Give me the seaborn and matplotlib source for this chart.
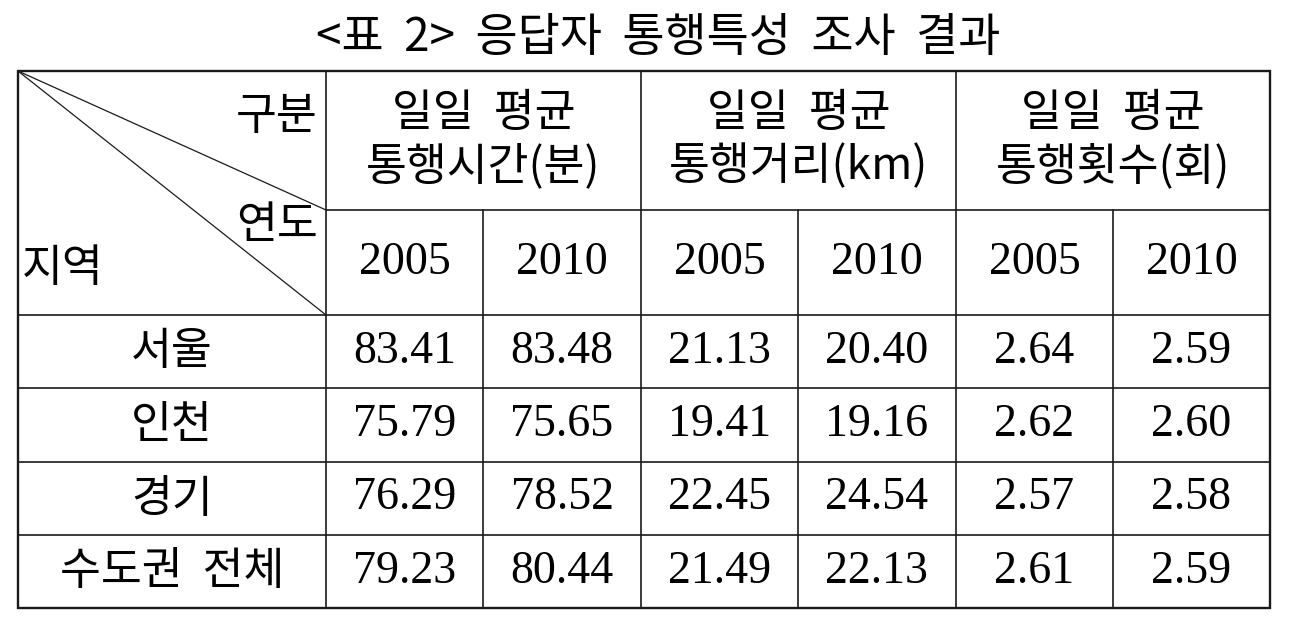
import numpy as np
import pandas as pd
import matplotlib
matplotlib.use("Agg")
import matplotlib.pyplot as plt
from matplotlib.colors import ListedColormap
import seaborn as sns

# ---------------- data ----------------
title = "<표  2>  응답자  통행특성  조사  결과"
regions = ["서울", "인천", "경기", "수도권  전체"]
years = ["2005", "2010"]
metric_line1 = ["일일  평균", "일일  평균", "일일  평균"]
metric_line2 = ["통행시간(분)", "통행거리(km)", "통행횟수(회)"]
corner_labels = ["구분", "연도", "지역"]

time_2005 = [83.41, 75.79, 76.29, 79.23]
time_2010 = [83.48, 75.65, 78.52, 80.44]
dist_2005 = [21.13, 19.41, 22.45, 21.49]
dist_2010 = [20.40, 19.16, 24.54, 22.13]
trips_2005 = [2.64, 2.62, 2.57, 2.61]
trips_2010 = [2.59, 2.60, 2.58, 2.59]

# ---------------- layout (pixels) ----------------
W, H = 1296, 634
col_x = [18, 326, 483, 641, 798, 956, 1113, 1270]
row_y = [71, 210, 315, 388, 462, 535, 608]

sns.set_theme(style="white")
KR = ["Noto Sans CJK KR", "DejaVu Sans"]
NUM = ["Liberation Serif", "Noto Sans CJK KR"]
plt.rcParams["font.family"] = KR
KW = "light"

fig = plt.figure(figsize=(W / 100, H / 100), dpi=100)
fig.patch.set_facecolor("white")

# body cells via seaborn heatmap
cols = pd.MultiIndex.from_product([metric_line2, years])
body = pd.DataFrame(
    np.column_stack([time_2005, time_2010, dist_2005, dist_2010,
                     trips_2005, trips_2010]),
    index=regions, columns=cols)

bx0, bx1 = col_x[1], col_x[-1]
by0, by1 = row_y[2], row_y[-1]
hax = fig.add_axes([bx0 / W, 1 - by1 / H, (bx1 - bx0) / W, (by1 - by0) / H])
sns.heatmap(body, ax=hax, cmap=ListedColormap(["white"]), cbar=False,
            annot=True, fmt=".2f",
            annot_kws=dict(fontsize=33, family=NUM, color="black"),
            linewidths=0,
            xticklabels=False, yticklabels=False)
hax.set_xlabel("")
hax.set_ylabel("")
for s in hax.spines.values():
    s.set_visible(False)

# overlay axes for frame, headers and labels
ax = fig.add_axes([0, 0, 1, 1])
ax.set_xlim(0, W)
ax.set_ylim(H, 0)
ax.axis("off")
ax.set_zorder(3)
ax.patch.set_alpha(0)

lc = "#1a1a1a"
thin = 1.2
# outer frame
ax.plot([col_x[0], col_x[-1], col_x[-1], col_x[0], col_x[0]],
        [row_y[0], row_y[0], row_y[-1], row_y[-1], row_y[0]],
        color=lc, lw=1.7, solid_joinstyle="miter")
# major vertical lines
for x in [col_x[1], col_x[3], col_x[5]]:
    ax.plot([x, x], [row_y[0], row_y[-1]], color=lc, lw=thin)
# minor vertical lines (below group header)
for x in [col_x[2], col_x[4], col_x[6]]:
    ax.plot([x, x], [row_y[1], row_y[-1]], color=lc, lw=thin)
# horizontal lines
ax.plot([col_x[1], col_x[-1]], [row_y[1], row_y[1]], color=lc, lw=thin)
for y in row_y[2:-1]:
    ax.plot([col_x[0], col_x[-1]], [y, y], color=lc, lw=thin)
# diagonals
ax.plot([col_x[0], col_x[1]], [row_y[0], row_y[1]], color=lc, lw=0.9)
ax.plot([col_x[0], col_x[1]], [row_y[0], row_y[2]], color=lc, lw=0.9)

# title
ax.text(658, 38, title, ha="center", va="center", fontsize=33,
        family=KR, fontweight=KW, color="black")

# corner labels
ax.text(318, 116, corner_labels[0], ha="right", va="center", fontsize=32,
        fontweight=KW, color="black")
ax.text(318, 225, corner_labels[1], ha="right", va="center", fontsize=32,
        fontweight=KW, color="black")
ax.text(22, 268, corner_labels[2], ha="left", va="center", fontsize=32,
        fontweight=KW, color="black")

# group headers
for i in range(3):
    cx = (col_x[1 + 2 * i] + col_x[3 + 2 * i]) / 2
    ax.text(cx, 113, metric_line1[i], ha="center", va="center", fontsize=32,
            fontweight=KW, color="black")
    ax.text(cx, 166, metric_line2[i], ha="center", va="center", fontsize=32,
            family=KR, fontweight=KW, color="black")
    for j in range(2):
        ccx = (col_x[1 + 2 * i + j] + col_x[2 + 2 * i + j]) / 2
        ax.text(ccx, 263, years[j], ha="center", va="center", fontsize=33,
                family=NUM, color="black")

# region labels
for r, name in enumerate(regions):
    cy = (row_y[2 + r] + row_y[3 + r]) / 2
    ax.text((col_x[0] + col_x[1]) / 2, cy, name, ha="center", va="center",
            fontsize=32, fontweight=KW, color="black")

fig.savefig("out.png", dpi=100, facecolor="white")
